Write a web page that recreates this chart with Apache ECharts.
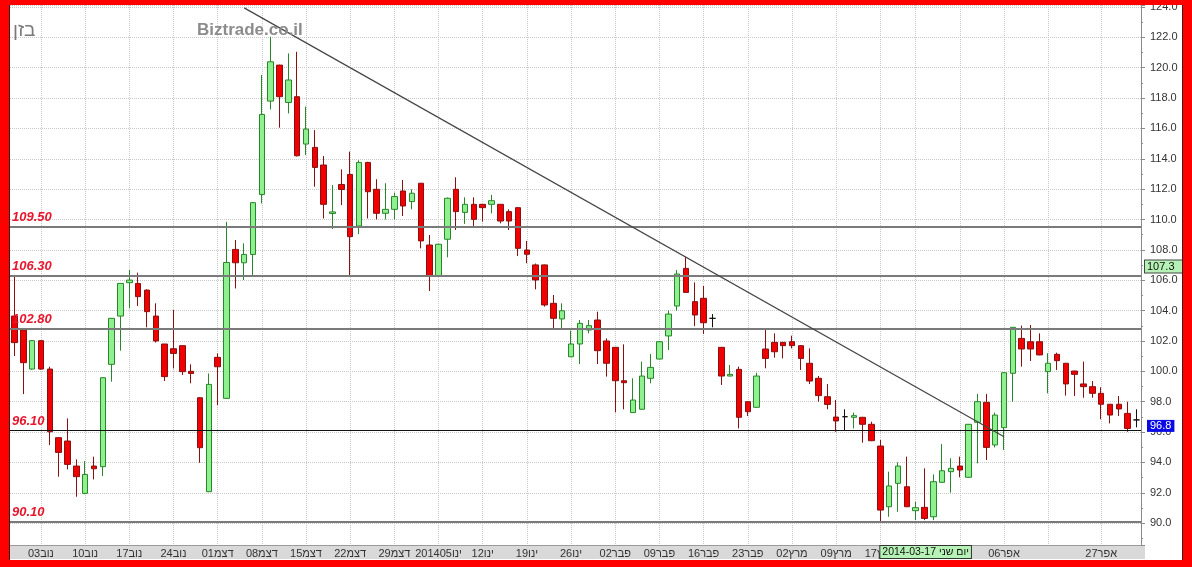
<!DOCTYPE html>
<html>
<head>
<meta charset="utf-8">
<script src="https://cdn.jsdelivr.net/npm/echarts@6/dist/echarts.min.js"></script>
<style>
html,body{margin:0;padding:0;background:#ff0000;width:1192px;height:567px;overflow:hidden;}
#chart{position:absolute;left:10px;top:5px;width:1172px;height:555px;background:#fff;box-shadow:-1px 0 0 #3a1a1a,1px 0 0 #3a1a1a;}
</style>
</head>
<body>
<div id="chart"></div>
<script>
// trading days
const dates = [
'2013-10-29','2013-10-30','2013-10-31',
'2013-11-03','2013-11-04','2013-11-05','2013-11-06','2013-11-07',
'2013-11-10','2013-11-11','2013-11-12','2013-11-13','2013-11-14',
'2013-11-17','2013-11-18','2013-11-19','2013-11-20','2013-11-21',
'2013-11-24','2013-11-25','2013-11-26','2013-11-27','2013-11-28',
'2013-12-01','2013-12-02','2013-12-03','2013-12-04','2013-12-05',
'2013-12-08','2013-12-09','2013-12-10','2013-12-11','2013-12-12',
'2013-12-15','2013-12-16','2013-12-17','2013-12-18','2013-12-19',
'2013-12-22','2013-12-23','2013-12-24','2013-12-25','2013-12-26',
'2013-12-29','2013-12-30','2013-12-31','2014-01-01','2014-01-02',
'2014-01-05','2014-01-06','2014-01-07','2014-01-08','2014-01-09',
'2014-01-12','2014-01-13','2014-01-14','2014-01-15','2014-01-16',
'2014-01-19','2014-01-20','2014-01-21','2014-01-22','2014-01-23',
'2014-01-26','2014-01-27','2014-01-28','2014-01-29','2014-01-30',
'2014-02-02','2014-02-03','2014-02-04','2014-02-05','2014-02-06',
'2014-02-09','2014-02-10','2014-02-11','2014-02-12','2014-02-13',
'2014-02-16','2014-02-17','2014-02-18','2014-02-19','2014-02-20',
'2014-02-23','2014-02-24','2014-02-25','2014-02-26','2014-02-27',
'2014-03-02','2014-03-03','2014-03-04','2014-03-05','2014-03-06',
'2014-03-09','2014-03-10','2014-03-11','2014-03-12','2014-03-13',
'2014-03-17','2014-03-18','2014-03-19','2014-03-20',
'2014-03-23','2014-03-24','2014-03-25','2014-03-26','2014-03-27',
'2014-03-30','2014-03-31','2014-04-01','2014-04-02','2014-04-03',
'2014-04-06','2014-04-07','2014-04-08','2014-04-09','2014-04-10',
'2014-04-13','2014-04-16','2014-04-17','2014-04-22','2014-04-23','2014-04-24',
'2014-04-27','2014-04-28','2014-04-29','2014-04-30','2014-05-01'
];
// [open, close, low, high]
const ohlc = [
[103.64,101.89,101.01,106.34],[102.72,100.57,98.50,102.80],[100.15,102.02,100.10,102.05],[102.02,100.15,100.10,102.05],
[100.15,96.02,95.14,100.30],[95.63,94.66,93.06,95.65],[95.41,93.87,93.54,96.90],[93.76,93.06,91.74,94.20],
[91.96,93.21,91.90,94.09],[93.76,93.58,92.88,94.38],[93.72,99.58,93.10,99.60],[100.46,103.49,99.32,103.50],
[103.64,105.79,101.36,105.80],[105.84,106.01,104.15,106.67],[105.79,104.92,104.30,106.50],[105.35,103.93,102.90,105.40],
[103.64,102.00,101.90,104.48],[101.80,99.65,99.36,101.80],[101.49,101.18,100.19,104.04],[101.69,99.98,99.76,101.70],
[100.00,99.86,99.21,100.46],[98.26,94.97,93.98,98.30],[92.07,99.14,92.05,99.86],[100.92,100.30,97.78,101.18],
[98.22,107.17,98.20,109.85],[108.03,107.15,105.46,108.65],[107.15,107.70,106.01,108.43],[107.70,111.11,106.27,111.15],
[111.65,116.92,111.06,119.52],[117.80,120.39,117.25,122.04],[120.17,118.09,116.05,120.20],[117.71,119.19,116.99,120.94],
[118.09,114.20,114.15,121.05],[114.97,115.96,114.25,117.43],[114.75,113.43,112.16,115.89],[113.59,111.00,110.07,114.18],
[110.40,110.50,109.37,112.27],[112.31,111.98,110.95,113.30],[112.97,108.87,106.23,114.47],[109.57,113.76,109.04,113.90],
[113.76,111.83,110.07,113.80],[111.99,110.41,110.01,112.65],[110.41,110.67,110.00,112.39],[110.67,111.51,110.00,111.77],
[111.88,110.89,110.23,112.60],[111.18,111.73,110.67,111.99],[112.39,108.59,108.10,112.40],[108.32,106.28,105.29,108.98],
[106.28,108.37,106.25,108.40],[108.70,111.40,107.51,111.45],[111.99,110.52,109.31,112.78],[110.47,111.00,109.71,111.46],
[111.00,110.01,109.49,111.46],[111.00,110.78,109.86,111.02],[111.00,111.24,110.41,111.62],[111.00,109.90,109.75,111.02],
[110.52,109.90,109.31,110.67],[110.78,108.10,107.60,110.80],[107.99,107.71,107.12,108.59],[107.01,106.02,105.40,107.10],
[107.01,104.37,104.26,107.03],[104.48,103.49,102.72,105.03],[103.45,103.99,102.77,104.48],[100.96,101.80,100.94,102.68],
[101.80,103.16,100.48,103.38],[102.72,103.01,102.50,103.38],[103.38,101.36,100.48,103.93],[102.00,100.53,99.65,102.17],
[101.58,99.38,97.30,101.60],[99.38,99.25,97.50,101.78],[97.28,98.11,97.26,99.54],[97.50,99.69,97.48,100.64],
[99.54,100.26,99.21,101.14],[100.81,101.95,100.79,102.00],[102.33,103.77,101.40,104.00],[104.30,106.41,104.00,106.67],
[106.78,105.20,105.18,107.55],[104.59,103.71,102.98,105.86],[104.81,103.20,102.46,105.62],[103.49,103.49,102.90,103.77],
[101.58,99.69,99.10,101.60],[99.69,99.80,99.67,100.42],[100.13,96.97,96.24,100.31],[98.00,97.34,97.06,98.02],
[97.63,99.69,97.61,99.91],[101.47,100.85,100.20,102.72],[101.91,101.29,100.90,102.50],[101.91,101.69,100.85,101.93],
[101.95,101.69,101.51,102.35],[101.69,100.85,100.09,101.71],[100.53,99.36,99.16,101.51],[99.54,98.40,98.00,99.69],
[98.33,97.82,97.50,99.16],[96.99,96.73,96.02,98.11],[97.01,97.01,96.13,97.50],[96.97,97.08,96.24,97.28],
[96.97,96.51,95.30,97.00],[96.51,95.43,95.40,96.68],[95.08,90.86,90.10,95.48],[91.08,92.45,90.42,93.39],
[92.62,93.76,90.75,94.00],[92.40,91.08,91.06,94.38],[90.82,91.02,90.20,91.41],[91.04,90.31,90.20,93.61],
[90.42,92.73,90.20,93.21],[92.69,93.45,92.67,95.21],[93.39,93.61,92.01,94.27],[93.76,93.50,93.02,94.38],
[93.02,96.51,93.00,96.53],[96.64,98.00,93.94,98.51],[97.96,94.99,94.16,98.51],[95.15,97.12,94.99,97.28],
[96.29,99.91,94.82,99.93],[99.87,102.90,98.00,102.92],[102.17,101.47,100.31,103.01],[101.95,101.47,100.68,103.05],
[101.95,101.08,101.06,102.50],[99.98,100.53,98.55,101.19],[101.12,100.70,100.09,101.23],[100.53,99.17,98.40,100.55],
[100.02,99.80,98.38,100.04],[99.17,98.99,98.26,100.64],[98.99,98.55,98.26,99.36],[98.55,97.83,96.84,98.95],
[97.83,97.12,96.57,97.85],[97.83,97.52,97.06,98.37],[97.23,96.24,96.02,98.00],[96.80,96.80,96.31,97.50]
];
// x-axis tick labels (week starts)
const tickLabels = {
'2013-11-03':'03נוב','2013-11-10':'10נוב','2013-11-17':'17נוב','2013-11-24':'24נוב',
'2013-12-01':'01דצמ','2013-12-08':'08דצמ','2013-12-15':'15דצמ','2013-12-22':'22דצמ','2013-12-29':'29דצמ',
'2014-01-05':'201405ינו','2014-01-12':'12ינו','2014-01-19':'19ינו','2014-01-26':'26ינו',
'2014-02-02':'02פבר','2014-02-09':'09פבר','2014-02-16':'16פבר','2014-02-23':'23פבר',
'2014-03-02':'02מרץ','2014-03-09':'09מרץ','2014-03-17':'17מרץ',
'2014-04-06':'06אפר','2014-04-27':'27אפר'
};
const weekStarts = ['2013-11-03','2013-11-10','2013-11-17','2013-11-24','2013-12-01','2013-12-08','2013-12-15',
'2013-12-22','2013-12-29','2014-01-05','2014-01-12','2014-01-19','2014-01-26','2014-02-02','2014-02-09',
'2014-02-16','2014-02-23','2014-03-02','2014-03-09','2014-03-17','2014-03-23','2014-03-30','2014-04-06',
'2014-04-13','2014-04-27'];
// support / resistance levels
const levels = [109.50, 106.30, 102.80, 96.10, 90.10];
const levelColors = ['#7a7a7a','#7a7a7a','#7a7a7a','#111111','#7a7a7a'];
// trend line endpoints [date, value]
const trendStart = ['2013-12-04', 123.94];
const trendEnd = ['2014-04-06', 95.69];
const cursorPrice = 107.3;
const lastPrice = 96.8;
const cursorDate = '2014-03-17';
const cursorDateText = '2014-03-17 יום שני';
const yMin = 88.56, yMax = 124.13;

const chart = echarts.init(document.getElementById('chart'));
const FONT = 'Liberation Sans';

const levelLines = levels.map((v, i) => ({
  yAxis: v,
  lineStyle: {color: levelColors[i], width: i === 3 ? 1.2 : 1.8, type: 'solid'},
  label: {show: true, position: 'insideStartTop', distance: [2, 3], formatter: v.toFixed(2),
    color: '#e8162c', fontStyle: 'italic', fontWeight: 'bold', fontSize: 13, fontFamily: FONT}
}));

chart.setOption({
  animation: false,
  textStyle: {fontFamily: FONT},
  title: [
    {text: 'Biztrade.co.il', left: 182, top: 12, textStyle: {fontSize: 17, fontWeight: 'bold', color: '#8c8c8c', fontFamily: FONT}},
    {text: 'בזן', left: -2, top: 11, textStyle: {fontSize: 19, fontWeight: 'normal', color: '#7a7a7a', fontFamily: FONT}}
  ],
  graphic: [
    {type: 'rect', left: 0, top: 540, z: -10, silent: true, shape: {width: 1135, height: 14}, style: {fill: '#d9d9d9'}}
  ],
  grid: {left: 0, right: 41, top: 0, bottom: 15, outerBoundsMode: 'none', containLabel: false},
  xAxis: {
    type: 'category', data: dates, boundaryGap: true,
    axisLine: {show: true, lineStyle: {color: '#9a9a9a'}},
    axisTick: {show: false},
    axisLabel: {
      interval: (idx, val) => tickLabels[val] !== undefined,
      formatter: (val) => tickLabels[val] || '',
      color: '#333', fontSize: 11, margin: 3, fontFamily: FONT
    },
    splitLine: {show: true, alignWithLabel: true, interval: (idx, val) => weekStarts.indexOf(val) >= 0,
      lineStyle: {color: '#c8c8c8', type: 'dotted', width: 1}}
  },
  yAxis: {
    type: 'value', position: 'right', scale: true, min: yMin, max: yMax, splitNumber: 18,
    axisLine: {show: true, lineStyle: {color: '#8a8a8a'}},
    axisTick: {show: true, length: 4, lineStyle: {color: '#8a8a8a'}},
    minorTick: {show: true, splitNumber: 2, length: 2, lineStyle: {color: '#8a8a8a'}},
    splitLine: {show: true, lineStyle: {color: '#c8c8c8', type: 'dotted'}},
    axisLabel: {formatter: (v) => v.toFixed(1), color: '#333', fontSize: 11, margin: 9,
      showMinLabel: false, showMaxLabel: false, fontFamily: FONT}
  },
  series: [{
    type: 'candlestick',
    data: ohlc,
    barWidth: 6,
    itemStyle: {color: '#8ef08e', color0: '#f00000', borderColor: '#2a862a', borderColor0: '#8a1010',
      borderColorDoji: '#111', borderWidth: 1},
    markLine: {
      silent: true, symbol: ['none', 'none'], animation: false,
      data: levelLines.concat([
        [{coord: trendStart, lineStyle: {color: '#444', width: 1.2, type: 'solid'}, label: {show: false}},
         {coord: trendEnd, lineStyle: {color: '#444', width: 1.2, type: 'solid'}, label: {show: false}}],
        {yAxis: cursorPrice, lineStyle: {color: 'rgba(0,0,0,0)'},
          label: {show: true, position: 'end', distance: 4, formatter: cursorPrice.toFixed(1), verticalAlign: 'top',
            backgroundColor: '#b6f2b6', borderColor: '#444', borderWidth: 1, color: '#111', fontSize: 11,
            padding: [1, 8, 0, 2], fontFamily: FONT}},
        {yAxis: lastPrice, lineStyle: {color: 'rgba(0,0,0,0)'},
          label: {show: true, position: 'end', distance: 6, formatter: lastPrice.toFixed(1), verticalAlign: 'top',
            backgroundColor: '#0a0ae6', color: '#fff', fontSize: 11, padding: [1, 3, 0, 3], fontFamily: FONT}},
        {xAxis: cursorDate, lineStyle: {color: 'rgba(0,0,0,0)'},
          label: {show: true, position: 'start', distance: 1, formatter: cursorDateText, align: 'left', verticalAlign: 'top',
            backgroundColor: '#b6f2b6', borderColor: '#333', borderWidth: 1, color: '#111', fontSize: 10.5,
            padding: [1, 2, 0, 2], fontFamily: FONT}}
      ])
    }
  }]
});
</script>
</body>
</html>
